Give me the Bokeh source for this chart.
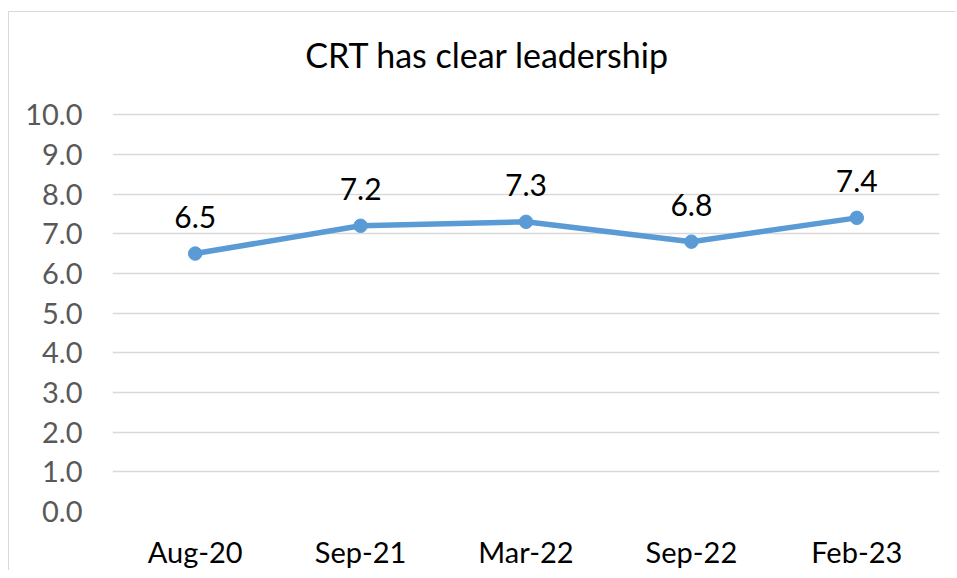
from bokeh.plotting import figure
from bokeh.models import ColumnDataSource, FixedTicker, NumeralTickFormatter, Range1d, Label
from bokeh.core.properties import value
from bokeh.embed import file_html
from bokeh.resources import INLINE

categories = ["Aug-20", "Sep-21", "Mar-22", "Sep-22", "Feb-23"]
scores = [6.5, 7.2, 7.3, 6.8, 7.4]
y_ticks = [0, 1, 2, 3, 4, 5, 6, 7, 8, 9, 10]
title_text = "CRT has clear leadership"

FONT = "Lato"
LINE_COLOR = "#5B9BD5"

src = ColumnDataSource(dict(
    x=categories,
    y=scores,
    label=[f"{v:.1f}" for v in scores],
))

# the frame extends above the 10.0 gridline to leave room for the title
p = figure(
    x_range=categories,
    y_range=Range1d(0, 12.1212),
    width=947, height=559,
    output_backend="svg",
    toolbar_location=None,
    min_border_left=103, min_border_right=17,
    min_border_top=18, min_border_bottom=58,
)
p.styles = {"border-left": "1px solid #D9D9D9", "border-top": "1px solid #D9D9D9",
            "margin-top": "11px", "margin-left": "8px"}

p.outline_line_color = None
p.xgrid.grid_line_color = None
p.ygrid.grid_line_color = "#D9D9D9"
p.ygrid.grid_line_width = 1.3

p.yaxis.ticker = FixedTicker(ticks=y_ticks)
p.yaxis.formatter = NumeralTickFormatter(format="0.0")
p.yaxis.axis_line_color = None
p.yaxis.major_tick_line_color = None
p.yaxis.minor_tick_line_color = None
p.yaxis.major_label_text_font = FONT
p.yaxis.major_label_text_font_size = "29px"
p.yaxis.major_label_text_color = "#595959"
p.yaxis.major_label_standoff = 24

p.xaxis.axis_line_color = None
p.xaxis.major_tick_line_color = None
p.xaxis.minor_tick_line_color = None
p.xaxis.major_label_text_font = FONT
p.xaxis.major_label_text_font_size = "29px"
p.xaxis.major_label_text_color = "#000000"
p.xaxis.major_label_standoff = 16

p.line("x", "y", source=src, line_color=LINE_COLOR, line_width=5.5)
p.scatter("x", "y", source=src, size=13.5, fill_color=LINE_COLOR, line_color=LINE_COLOR)
p.text("x", "y", text="label", source=src, text_font=value(FONT), text_font_size="30px",
       text_color="#000000", text_align="center", text_baseline="alphabetic", y_offset=-37)

# chart title, centred over the whole chart area (as in the original)
title = Label(x=2.267, y=11.52, text=title_text, text_font=FONT, text_font_size="34px",
              text_color="#000000", text_align="center", text_baseline="alphabetic")
p.add_layout(title)

open("out.html", "w").write(file_html(p, INLINE))
